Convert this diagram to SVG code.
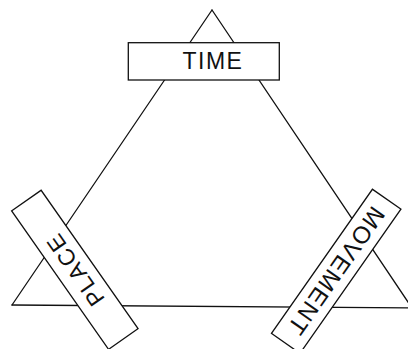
<svg xmlns="http://www.w3.org/2000/svg" width="408" height="349" viewBox="0 0 408 349">
<style>
.edge{stroke:#111;stroke-width:1.3;fill:none;stroke-linecap:round}
.box{fill:#fff;stroke:#111;stroke-width:1.3}
.lbl{font-family:"Liberation Sans",Arial,sans-serif;font-size:23px;fill:#111;text-anchor:middle;letter-spacing:1.5px}
</style>
<rect width="408" height="349" fill="#fff"/>
<g id="connectors">
<line class="edge" x1="212" y1="10" x2="12" y2="305"/>
<line class="edge" x1="212" y1="10" x2="412" y2="308"/>
<line class="edge" x1="12" y1="305" x2="412" y2="308"/>
</g>
<g id="time">
<rect class="box" x="128.3" y="42.7" width="151" height="37.3"/>
<text class="lbl" x="213" y="69">TIME</text>
</g>
<g id="place" transform="translate(74.85,269.8) rotate(-125)">
<rect class="box" x="-84.5" y="-18" width="169" height="36"/>
<text class="lbl" x="0" y="8.4">PLACE</text>
</g>
<g id="movement" transform="translate(336.2,271.3) rotate(125)">
<rect class="box" x="-88" y="-17.4" width="176" height="34.8"/>
<text class="lbl" x="0" y="8.4" style="font-size:24px">MOVEMENT</text>
</g>
</svg>
